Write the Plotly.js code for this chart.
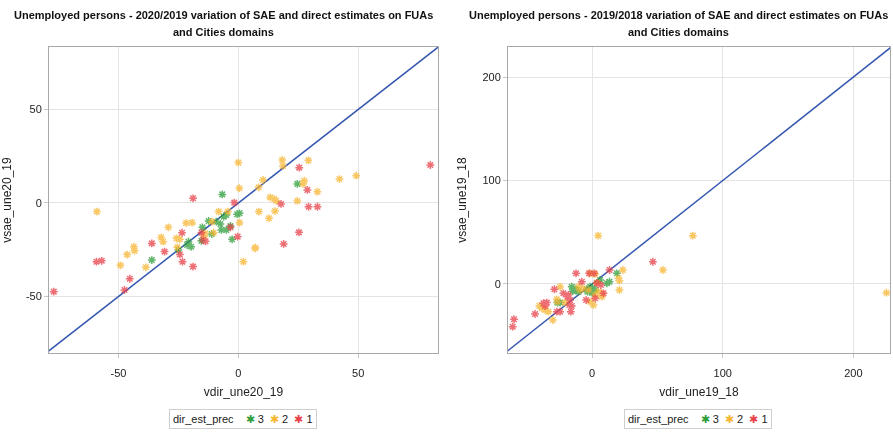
<!DOCTYPE html>
<html><head><meta charset="utf-8">
<script src="https://cdn.plot.ly/plotly-3.0.1.min.js"></script>
<style>html,body{margin:0;padding:0;background:#fff}#chart{width:893px;height:433px}</style>
</head><body><div id="chart"></div>
<script>
// ---- Left panel: 2020/2019 variation (vdir_une20_19, vsae_une20_19)
const left3x = [-6.7,0.5,-0.5,-6.1,-5,-12.4,-9.2,-7.5,-15,-3.3,-7.1,-5,-11.1,-2.6,-15.4,-20.8,-21.4,-19.7,-25,-36.1,24.6];
const left3y = [4.6,-5.5,-6,-7.3,-6.4,-9.6,-10,-11.2,-13,-12.3,-14.4,-14.4,-16.6,-19.4,-20.2,-20.7,-22.5,-23.4,-25.1,-30.5,10.2];
const left2x = [0,0.4,-59,8.6,-8.2,-4.4,-21.8,-19.3,-11,0.5,-29.2,-13.8,-10.3,-14.2,-32.2,-31.4,-25.8,-24.4,-43.6,-43.3,-25.5,-46.4,-49.2,-38.6,2.1,7.1,18.3,18.6,29.2,10.3,8.5,27.5,27,33,42.2,49.2,13.3,15,15.8,24.6,15.3,12.8,7];
const left2y = [21.6,7.9,-4.6,-4.6,-4.6,-4.6,-10.7,-10.5,-10,-10.5,-13,-16.2,-15.9,-17.6,-18.4,-20.7,-18.9,-19.4,-23.4,-25.5,-23.7,-27.6,-33.3,-34.4,-31.4,-23.9,23,19.8,22.8,12.3,8.4,11.9,10.2,6,12.8,14.6,3,2.1,1.2,1.1,-4.3,-8.2,-24.2];
const left1x = [-18.9,-1.7,-3.3,-23.5,-15.4,-0.3,-13.7,-36.1,-30.8,-24.4,-59.2,-57,-23.3,-18.9,-45.3,-47.5,-77,25.4,28.8,80.1,17.8,29.3,33,18.9,25.3,-14.7];
const left1y = [2.5,0.2,-13,-15.9,-15.9,-18,-20.5,-21.6,-26,-27.5,-31.4,-30.9,-31.4,-34,-40.5,-46.5,-47.4,18.9,7,20.3,-0.5,-2,-2,-21.9,-15.7,-19.8];

// ---- Right panel: 2019/2018 variation (vdir_une19_18, vsae_une19_18)
const right3x = [-15.6,-13,-14.8,-10.5,-4,-1.5,0.5,-3.6,-1.5,-0.2,2.3,6.1,11.3,13.3,18.9,-24.5,-26.6,-14.3,-11.7];
const right3y = [-2.6,-5.8,-7,-7.4,-5.1,-7.4,-4.2,-7.4,-2.6,-8.4,-5.8,3.9,0.7,2.2,10.3,-18,-18,-4.2,-5.8];
const right2x = [4.6,77.1,54.2,225.3,23.5,20.2,20.9,20.9,3.6,-1.5,2.3,-24.5,-10.5,-7.1,-9.2,-2.8,4.8,7.4,7.4,2.3,1,-1.5,-27,-26.6,-20.7,-40.4,-38.5,-36,-33.5,-30.1];
const right2y = [46.7,46.7,13.5,-8.4,13.5,5.5,3.2,-5.8,1.3,10.3,9.7,-2.6,-2.6,-4.2,-5.8,-5.8,-7.4,-9,-12.3,-10.6,-20.3,-17.1,-14.8,-17.1,-18,-21.3,-23.5,-25.1,-26.8,-34.8];
const right1x = [46.5,-12.3,-2.3,1.5,13.3,-7.9,-28.9,-22,-18.9,-18.2,-4.6,2.3,3.6,6.7,8.7,-16.9,-17.4,-16.3,-37.3,-34.7,-36,-43.7,-27,-24.5,-59.8,-60.8,-15.6];
const right1y = [21.5,10.3,10.3,10.3,13.5,2.2,-5.1,-9,-12.3,-10.6,-15.5,-13.8,0.7,-1,-9,-15.5,-20.3,-26.8,-18.6,-18,-21.3,-29,-26.8,-26.8,-34.1,-41.3,-21.3];

// tick values / labels
const leftTicks = [-50, 0, 50];
const leftTickText = ['-50', '0', '50'];
const rightTicks = [0, 100, 200];
const rightTickText = ['0', '100', '200'];

// reference line y = x extent
const diagLeft = [-90, 90];
const diagRight = [-80, 240];

const groupNames = ['3','2','1'];
const groupColors = ['#2e9e3a','#f7b531','#e8404a'];
const legendTitle = 'dir_est_prec';
const titleLeft = ['Unemployed persons - 2020/2019 variation of SAE and direct estimates on FUAs', 'and Cities domains'];
const titleRight = ['Unemployed persons - 2019/2018 variation of SAE and direct estimates on FUAs', 'and Cities domains'];

const fam = '"Liberation Sans", Arial, sans-serif';

function pts(x, y, gi, xa, ya) {
  return {type:'scatter', mode:'markers', x:x, y:y, xaxis:xa, yaxis:ya, name:groupNames[gi],
    showlegend:false, opacity:0.75,
    marker:{symbol:'asterisk-open', size:6.5, color:groupColors[gi], line:{color:groupColors[gi], width:1.5}}};
}
const traces = [
  {type:'scatter', mode:'lines', x:diagLeft, y:diagLeft, xaxis:'x', yaxis:'y', showlegend:false, line:{color:'#3557b0', width:1.5}, hoverinfo:'skip'},
  {type:'scatter', mode:'lines', x:diagRight, y:diagRight, xaxis:'x2', yaxis:'y2', showlegend:false, line:{color:'#3557b0', width:1.5}, hoverinfo:'skip'},
  pts(left3x,left3y,0,'x','y'),
  pts(left2x,left2y,1,'x','y'),
  pts(left1x,left1y,2,'x','y'),
  pts(right3x,right3y,0,'x2','y2'),
  pts(right2x,right2y,1,'x2','y2'),
  pts(right1x,right1y,2,'x2','y2')
];

const H = 433, W = 893;
const yDom = [1-353/H, 1-47/H];
function ax(extra){
  return Object.assign({showgrid:true, gridcolor:'#e4e4e4', gridwidth:1, zeroline:false,
    showline:true, linecolor:'#a8a8a8', linewidth:1, mirror:true,
    ticks:'outside', ticklen:4, tickcolor:'#c8c8c8', tickmode:'array',
    tickfont:{family:fam, size:11, color:'#222'}, automargin:false}, extra);
}
const tfont = {family:fam, size:12, color:'#222'};

const legendText = legendTitle + '    ' + groupNames.map((g,i)=>'<span style="color:'+groupColors[i]+'">✱</span> ' + g).join('  ');

function titleAnn(txt, cx, cy){
  return {xref:'paper', yref:'paper', x:cx/W, y:1-cy/H, xanchor:'center', yanchor:'middle', showarrow:false,
    text:'<b>'+txt+'</b>', font:{family:fam, size:11, color:'#111'}};
}

const layout = {
  width:W, height:H, margin:{l:0,r:0,t:0,b:0}, paper_bgcolor:'#fff', plot_bgcolor:'#fff',
  font:{family:fam, color:'#222'}, showlegend:false,
  xaxis: ax({domain:[49/W, 438/W], range:[-79, 83.3], tickvals:leftTicks, ticktext:leftTickText, anchor:'y', ticklabelstandoff:6,
    title:{text:'vdir_une20_19', font:tfont, standoff:9}}),
  yaxis: ax({domain:yDom, range:[-80.2, 83.4], tickvals:leftTicks, ticktext:leftTickText, anchor:'x',
    title:{text:'vsae_une20_19', font:tfont, standoff:11}}),
  xaxis2: ax({domain:[508/W, 890/W], range:[-64.4, 228], tickvals:rightTicks, ticktext:rightTickText, anchor:'y2', ticklabelstandoff:6,
    title:{text:'vdir_une19_18', font:tfont, standoff:9}}),
  yaxis2: ax({domain:yDom, range:[-66.7, 229], tickvals:rightTicks, ticktext:rightTickText, anchor:'x2',
    title:{text:'vsae_une19_18', font:tfont, standoff:13}}),
  annotations:[
    titleAnn(titleLeft[0], 223, 15), titleAnn(titleLeft[1], 223, 32),
    titleAnn(titleRight[0], 678, 15), titleAnn(titleRight[1], 678, 32),
    {xref:'paper', yref:'paper', x:243/W, y:1-419/H, xanchor:'center', yanchor:'middle', showarrow:false,
     text:legendText, font:{family:fam, size:11, color:'#222'}, bgcolor:'#fff', bordercolor:'#cfcfcf', borderwidth:1, borderpad:3},
    {xref:'paper', yref:'paper', x:698/W, y:1-419/H, xanchor:'center', yanchor:'middle', showarrow:false,
     text:legendText, font:{family:fam, size:11, color:'#222'}, bgcolor:'#fff', bordercolor:'#cfcfcf', borderwidth:1, borderpad:3}
  ]
};
Plotly.newPlot('chart', traces, layout, {staticPlot:true, displayModeBar:false});
</script></body></html>
